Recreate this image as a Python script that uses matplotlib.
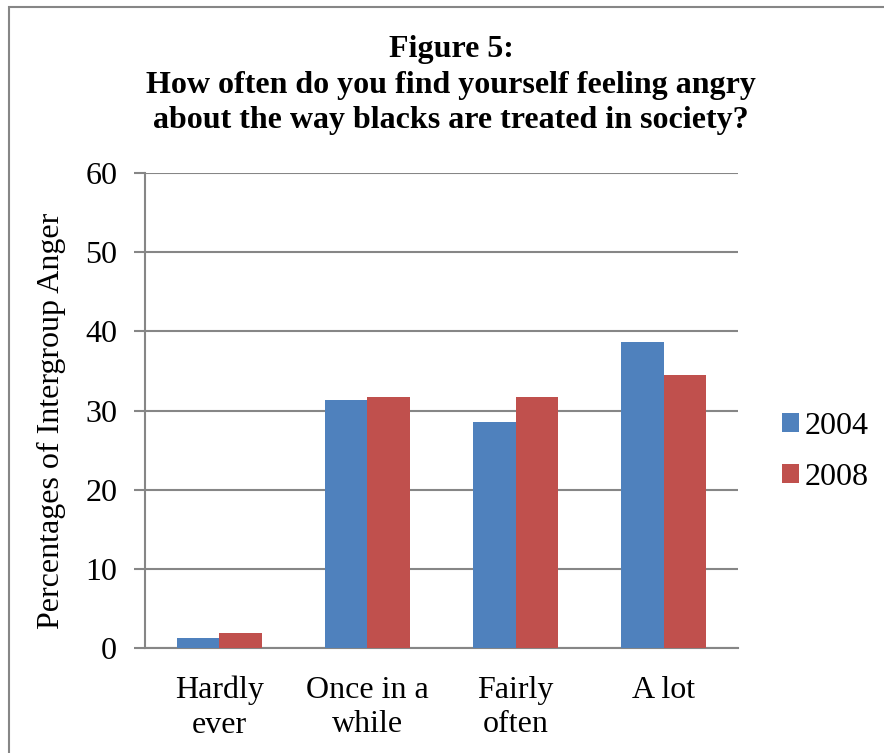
import matplotlib
matplotlib.use("Agg")
import matplotlib.pyplot as plt
import numpy as np
from matplotlib.patches import Rectangle

categories = ["Hardly\never", "Once in a\nwhile", "Fairly\noften", "A lot"]
series_names = ["2004", "2008"]
values_2004 = [1.3, 31.3, 28.6, 38.6]
values_2008 = [1.9, 31.75, 31.75, 34.5]
y_ticks = [0, 10, 20, 30, 40, 50, 60]

blue = "#4F81BD"
red = "#C0504D"
grid_gray = "#868686"

plt.rcParams["font.family"] = ["Liberation Serif", "DejaVu Serif"]

fig = plt.figure(figsize=(8.84, 7.53), dpi=100)
ax = fig.add_axes([145 / 884, 1 - 648 / 753, (738 - 145) / 884, (648 - 173) / 753])

x = np.arange(len(categories))
w = 0.286
ax.bar(x - w / 2, values_2004, width=w, color=blue, label=series_names[0], zorder=3)
ax.bar(x + w / 2, values_2008, width=w, color=red, label=series_names[1], zorder=3)

ax.set_xlim(-0.5, len(categories) - 0.5)
ax.set_ylim(0, 60)
ax.set_yticks(y_ticks)
ax.set_xticks(x)
ax.set_xticklabels(categories, fontsize=23, linespacing=1.25)
ax.tick_params(axis="y", labelsize=23, length=8, width=1.5, color=grid_gray, pad=12)
ax.tick_params(axis="x", length=0, pad=20)

ax.yaxis.grid(True, color=grid_gray, linewidth=1.5, zorder=0)
ax.set_axisbelow(True)
for s in ["top", "right"]:
    ax.spines[s].set_visible(False)
for s in ["left", "bottom"]:
    ax.spines[s].set_color(grid_gray)
    ax.spines[s].set_linewidth(1.5)

fig.text(51 / 884, 1 - 421 / 753, "Percentages of Intergroup Anger", fontsize=23,
         rotation=90, ha="center", va="center")

fig.text(451 / 884, 1 - 35 / 753,
         "Figure 5:\nHow often do you find yourself feeling angry\nabout the way blacks are treated in society?",
         ha="center", va="top", fontsize=23, fontweight="bold", linespacing=1.3)

handles, labels = ax.get_legend_handles_labels()
fig.legend(handles, labels, loc="center left", bbox_to_anchor=(782 / 884, 1 - 452 / 753),
           frameon=False, fontsize=23, handlelength=0.53, handleheight=0.53,
           handletextpad=0.19, labelspacing=0.68, borderpad=0, borderaxespad=0)

fig.add_artist(Rectangle((9 / 884, -0.1), 1.2, 1 - 7 / 753 + 0.1, transform=fig.transFigure,
                         fill=False, edgecolor=grid_gray, linewidth=1.5))

fig.savefig("out.png", dpi=100)
